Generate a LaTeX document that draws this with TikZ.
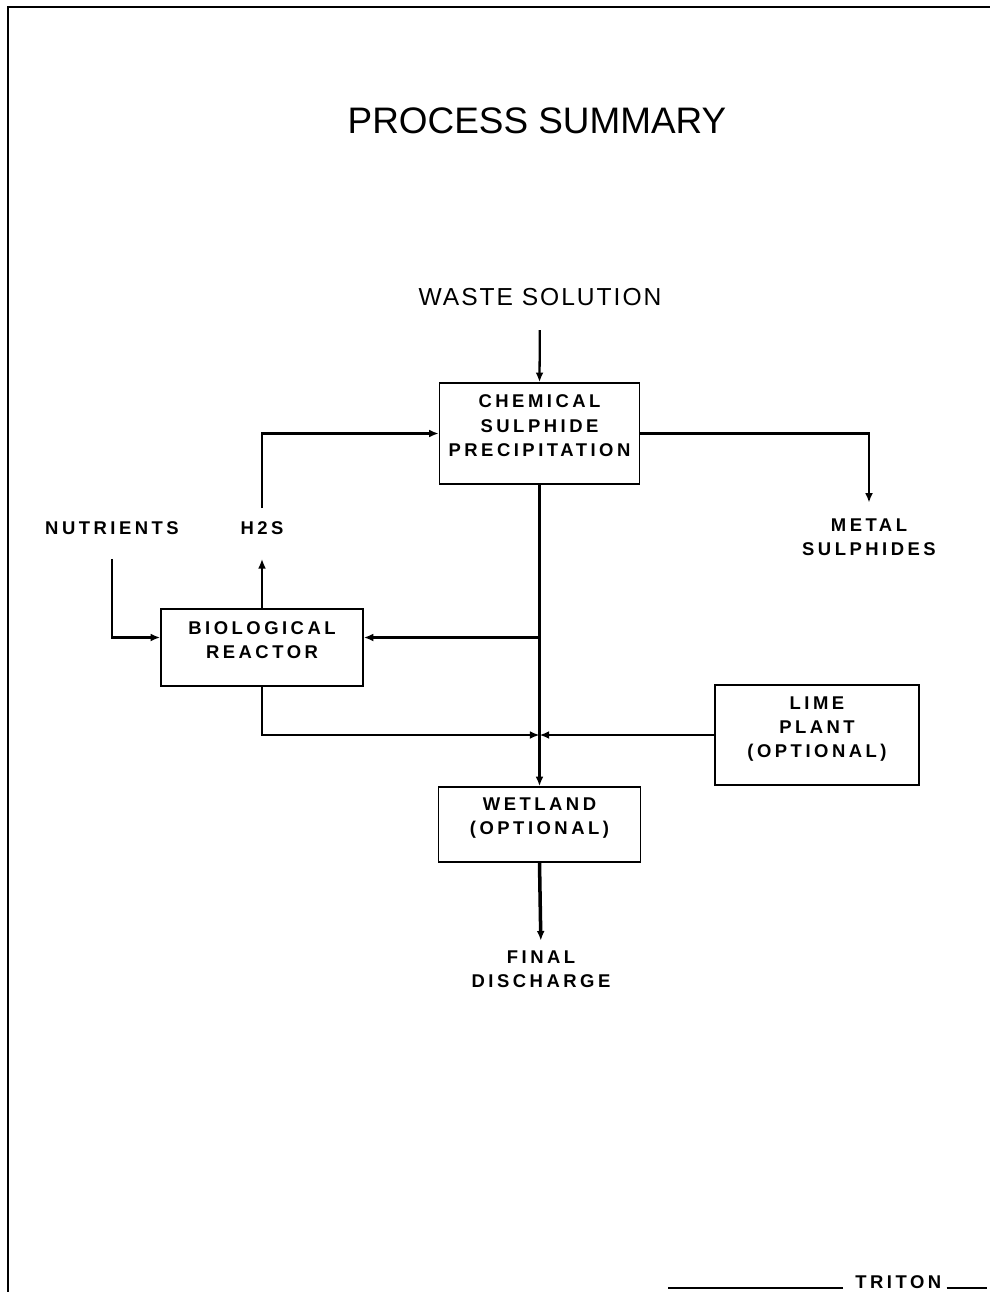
\documentclass[tikz,border=0pt]{standalone}
\usepackage{fontspec}
\setmainfont{Liberation Sans}
\newfontfamily\flowfont{Liberation Sans}[LetterSpace=19]
\newfontfamily\headfont{Liberation Sans}[LetterSpace=8]
\usetikzlibrary{arrows.meta,positioning,calc}

\begin{document}
\begin{tikzpicture}[x=0.02cm,y=-0.02cm,
    proc/.style={draw,line width=0.9pt,inner sep=0pt,align=center,text depth=9pt,
      font=\flowfont\bfseries\fontsize{10.5}{13.7}\selectfont},
    lbl/.style={inner sep=0pt,align=center,
      font=\flowfont\bfseries\fontsize{10.5}{13.7}\selectfont},
    flow/.style={line width=1.3pt,-{Latex[length=5.5pt,width=4.5pt]}},
    trunk/.style={line width=2pt,-{Latex[length=5.5pt,width=4.5pt]}}]
  \useasboundingbox (0,0) rectangle (990,1292);
  % sheet frame
  \draw[line width=1.6pt] (990,7) -- (8,7) -- (8,1292);

  \node[font=\fontsize{21}{25}\selectfont] (title) at (537,121) {PROCESS SUMMARY};
  \node[inner sep=0pt,font=\headfont\fontsize{14}{17}\selectfont] (waste) at (540,297) {WASTE SOLUTION};

  % process blocks
  \node[proc,minimum width=4cm,minimum height=2.02cm] (chem) at (539.5,433.5)
    {CHEMICAL\\SULPHIDE\\PRECIPITATION};
  \node[proc,minimum width=4.04cm,minimum height=1.54cm] (bio) at (262,647.5)
    {BIOLOGICAL\\REACTOR};
  \node[proc,minimum width=4.08cm,minimum height=2cm] (lime) at (817,735)
    {LIME\\PLANT\\(OPTIONAL)};
  \node[proc,minimum width=4.04cm,minimum height=1.5cm] (wet) at (539.5,824.5)
    {WETLAND\\(OPTIONAL)};

  % stream labels
  \node[lbl] (nutrients) at (112,528)   {NUTRIENTS};
  \node[lbl] (h2s)       at (262,528)   {H2S};
  \node[lbl] (metal)     at (869,537.5) {METAL\\SULPHIDES};
  \node[lbl] (final)     at (541,969.5) {FINAL\\DISCHARGE};

  % inlets of the reactor sit above its middle
  \coordinate (bioin)  at ([yshift=0.2cm]bio.west);
  \coordinate (bioret) at ([yshift=0.2cm]bio.east);
  \coordinate (tap)  at (chem.south |- bioret);
  \coordinate (join) at (chem.south |- lime.west);

  \draw[flow,shorten <=0.48cm] (waste.south) -- (chem.north);
  \draw[flow,shorten <=0.26cm] (h2s.north) |- (chem.west);
  \draw[flow,shorten >=0.48cm] (bio.north) -- (h2s.south);
  \draw[flow,shorten <=0.48cm] (nutrients.south) |- (bioin);
  \draw[flow,shorten >=0.32cm] (chem.east) -| (metal.north);
  \draw[trunk] (chem.south) -- (wet.north);
  \draw[flow] (tap) -- (bioret);
  \draw[flow] (bio.south) |- (join);
  \draw[flow] (lime.west) -- (join);
  \draw[trunk,shorten >=0.2cm] (wet.south) -- (final.north);

  % title block mark
  \node[lbl,anchor=base west] (triton) at (855,1288) {TRITON};
  \draw[line width=1pt] ([xshift=-0.24cm]triton.base west) -- ++(-175,0);
  \draw[line width=1pt] ([xshift=0.1cm]triton.base east) -- ++(40,0);
\end{tikzpicture}
\end{document}
